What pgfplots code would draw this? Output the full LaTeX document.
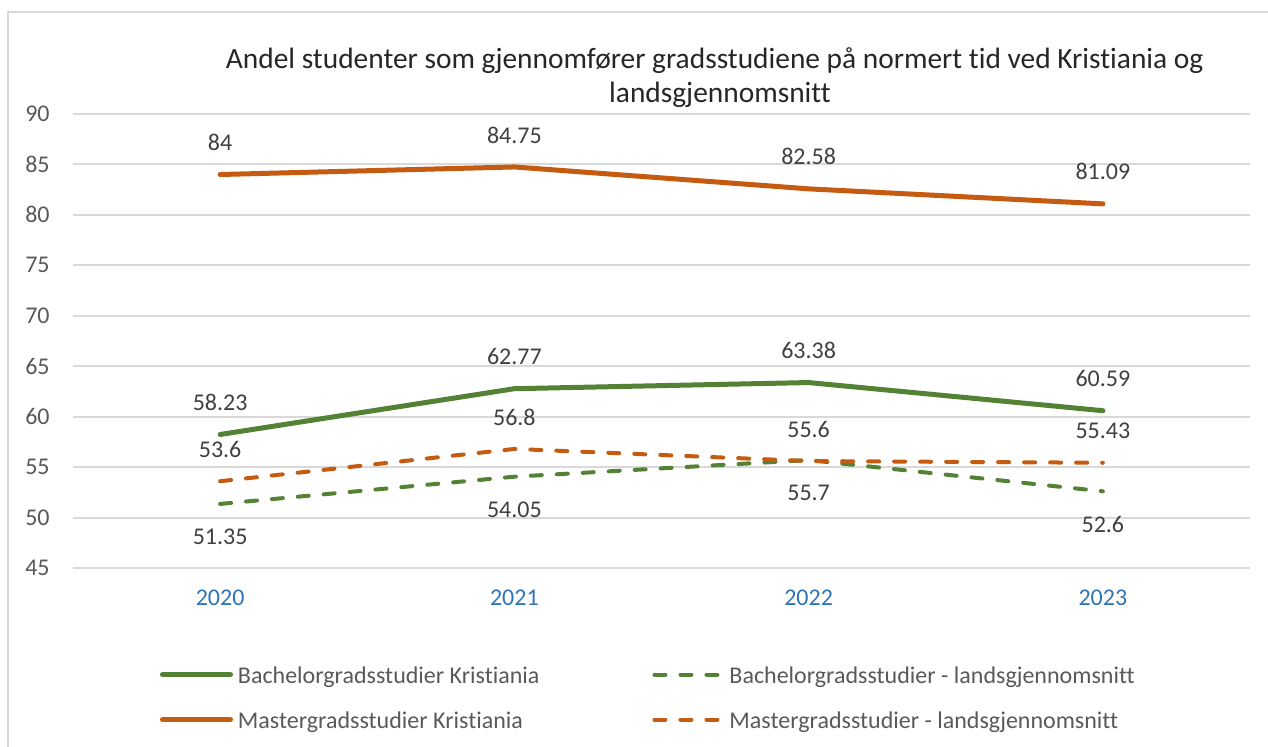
\documentclass[border=0pt]{standalone}
\usepackage{fontspec}
\setmainfont{Carlito}[Ligatures=CommonOff]
\usepackage{pgfplots}
\pgfplotsset{compat=1.18}
\definecolor{grn}{HTML}{548235}
\definecolor{org}{HTML}{C55A11}
\definecolor{grd}{HTML}{D9D9D9}
\definecolor{txt}{HTML}{595959}
\definecolor{lab}{HTML}{404040}
\definecolor{yr}{HTML}{2E75B6}

\begin{document}
\begin{tikzpicture}
\useasboundingbox (0pt,0pt) rectangle (634pt,373.5pt);
\draw[grd, line width=1pt] (4pt,-2pt) -- (4pt,367.5pt) -- (636pt,367.5pt);
\node[font=\fontsize{14.7}{17}\selectfont, text=black!85, anchor=base, inner sep=0pt] at (357.3pt,339pt)
  {Andel studenter som gjennomfører gradsstudiene på normert tid ved Kristiania og};
\node[font=\fontsize{14.7}{17}\selectfont, text=black!85, anchor=base, inner sep=0pt] at (360pt,322pt)
  {landsgjennomsnitt};
\begin{axis}[
  at={(36.5pt,89.5pt)}, anchor=south west,
  scale only axis, width=588.5pt, height=227pt,
  xmin=-0.5, xmax=3.5, ymin=45, ymax=90,
  xtick={0,1,2,3}, xticklabels={2020,2021,2022,2023},
  ytick={45,50,...,90},
  axis line style={draw=none}, tick style={draw=none},
  ymajorgrids, grid style={grd, line width=1pt},
  /pgf/number format/assume math mode=true,
  ticklabel style={font=\fontsize{12}{14}\selectfont, inner sep=0pt},
  yticklabel style={text=txt, anchor=east, xshift=-11.5pt},
  xticklabel style={text=yr, anchor=center, yshift=-15pt},
  clip=false,
  point meta=explicit symbolic,
  nodes near coords,
  every node near coord/.append style={font=\fontsize{12}{14}\selectfont, text=lab, anchor=center, inner sep=0pt},
  legend columns=2,
  legend cell align=left,
  legend style={draw=none, fill=none, inner sep=0pt, outer sep=0pt,
    font=\fontsize{12}{14}\selectfont, text=txt,
    at={(0.0739,-0.2159)}, anchor=north west,
    nodes={inner sep=0pt, text height=8.5pt, text depth=0pt},
    row sep=14pt,
    /tikz/every odd column/.append style={column sep=2.5pt},
    /tikz/every even column/.append style={column sep=56.5pt}},
  legend image code/.code={\draw[#1] (0pt,0pt) -- (34pt,0pt);},
  solidl/.style={line width=2.5pt, line cap=round, line join=round},
  dashl/.style={line width=2pt, line cap=round, line join=round, dash pattern=on 5.5pt off 7.5pt},
  above/.style={every node near coord/.append style={yshift=16pt}},
  below/.style={every node near coord/.append style={yshift=-16.5pt}},
]
\addplot[grn, solidl, above] coordinates {(0,58.23) [58.23] (1,62.77) [62.77] (2,63.38) [63.38] (3,60.59) [60.59]};
\addlegendentry{Bachelorgradsstudier Kristiania}
\addplot[grn, dashl, below] coordinates {(0,51.35) [51.35] (1,54.05) [54.05] (2,55.7) [55.7] (3,52.6) [52.6]};
\addlegendentry{Bachelorgradsstudier - landsgjennomsnitt}
\addplot[org, solidl, above] coordinates {(0,84) [84] (1,84.75) [84.75] (2,82.58) [82.58] (3,81.09) [81.09]};
\addlegendentry{Mastergradsstudier Kristiania}
\addplot[org, dashl, above] coordinates {(0,53.6) [53.6] (1,56.8) [56.8] (2,55.6) [55.6] (3,55.43) [55.43]};
\addlegendentry{Mastergradsstudier - landsgjennomsnitt}
\end{axis}
\end{tikzpicture}
\end{document}
